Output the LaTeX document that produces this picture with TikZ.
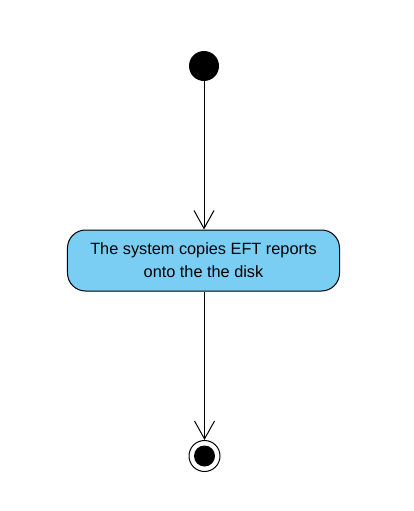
\documentclass[tikz,border=0pt]{standalone}
\usepackage{fontspec}
\setmainfont{Liberation Sans}
\usetikzlibrary{arrows.meta}
\definecolor{actfill}{RGB}{122,206,244}
\tikzset{
  flow/.style={draw=black, line width=1bp, -{Straight Barb[length=18bp,width=20bp,line width=1bp]}},
  actbox/.style={draw=black, line width=1bp, fill=actfill, rounded corners=18bp, minimum width=272bp, minimum height=61bp, inner sep=0pt, align=center, font=\fontsize{16.3bp}{23bp}\selectfont},
  initnode/.style={circle, fill=black, minimum size=30bp, inner sep=0pt},
  finalouter/.style={circle, draw=black, line width=1bp, fill=white, minimum size=31bp, inner sep=0pt},
  finalinner/.style={circle, fill=black, minimum size=21bp, inner sep=0pt}
}
\begin{document}
\begin{tikzpicture}[x=1bp,y=-1bp]
\useasboundingbox[fill=white] (0,0) rectangle (413,511);
\node[initnode] (start) at (204,66) {};
\node[actbox] (act) at (203.5,260.5) {The system copies EFT reports\\onto the the disk};
\node[finalouter] (final) at (204.5,456) {};
\node[finalinner] (finalin) at (204.5,456) {};
\draw[flow] (start.south) -- (start.south |- act.north);
\draw[flow] (act.south -| final.north) -- (final.north);
\end{tikzpicture}
\end{document}
